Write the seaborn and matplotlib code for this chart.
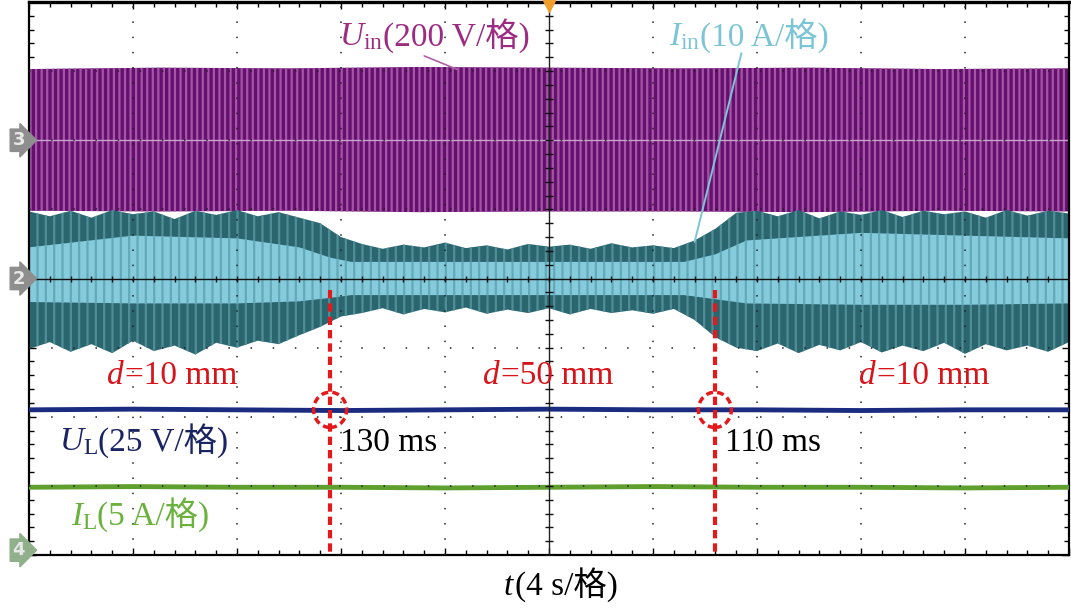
import numpy as np
import pandas as pd
import matplotlib
matplotlib.use("Agg")
import matplotlib.pyplot as plt
import seaborn as sns
from matplotlib.patches import Ellipse
from matplotlib.offsetbox import TextArea, HPacker, AnnotationBbox
import matplotlib.transforms as mtransforms

sns.set_theme(style="white")
FAM = ["Liberation Serif", "Noto Sans CJK SC", "DejaVu Sans"]
plt.rcParams["font.family"] = FAM
plt.rcParams["mathtext.fontset"] = "custom"
plt.rcParams["mathtext.rm"] = "Liberation Serif"
plt.rcParams["mathtext.it"] = "Liberation Serif:italic"
plt.rcParams["hatch.linewidth"] = 1.6

# ---------------- data (time in s, amplitude in divisions) ----------------
t_env = [0.0, 0.8, 1.6, 2.4, 3.2, 4.0, 4.8, 5.6, 6.4, 7.2, 8.0, 8.8, 9.6, 10.4,
         11.2, 12.0,
         12.8, 13.6, 14.4, 15.2, 16.0, 16.8, 17.6, 18.4, 19.2, 20.0, 20.8, 21.6,
         22.4, 23.2, 24.0, 24.8,
         25.6, 26.4, 27.2,
         28.0, 28.8, 29.6, 30.4, 31.2, 32.0, 32.8, 33.6, 34.4, 35.2, 36.0, 36.8,
         37.6, 38.4, 39.2, 40.0]
iin_upper = [0.97, 0.90, 0.98, 0.88, 0.99, 0.93, 0.97, 0.86, 0.98, 0.92, 0.99, 0.90, 0.96, 0.88,
             0.80, 0.60,
             0.50, 0.43, 0.49, 0.45, 0.52, 0.44, 0.48, 0.42, 0.50, 0.46, 0.49, 0.43,
             0.51, 0.45, 0.48, 0.44,
             0.55, 0.72, 0.95,
             0.98, 0.90, 0.99, 0.87, 0.97, 0.92, 0.99, 0.89, 0.98, 0.93, 0.97, 0.88,
             0.99, 0.91, 0.98, 0.94]
iin_lower = [-1.02, -0.92, -1.06, -0.95, -1.08, -0.90, -1.05, -0.97, -1.10, -0.93, -1.00, -0.90, -0.95, -0.82,
             -0.70, -0.55,
             -0.50, -0.43, -0.52, -0.44, -0.49, -0.42, -0.51, -0.45, -0.50, -0.43, -0.52, -0.44,
             -0.50, -0.46, -0.51, -0.44,
             -0.60, -0.85, -1.00,
             -1.05, -0.94, -1.08, -0.96, -1.04, -0.92, -1.07, -0.97, -1.05, -0.93, -1.09, -0.95,
             -1.04, -0.97, -1.06, -0.92]
t_core = [0.0, 4.0, 8.0, 10.4, 11.6, 12.4, 20.0, 25.2, 26.4, 27.6, 32.0, 36.0, 40.0]
core_upper = [0.45, 0.62, 0.58, 0.45, 0.30, 0.24, 0.24, 0.24, 0.35, 0.55, 0.66, 0.62, 0.58]
core_lower = [-0.34, -0.36, -0.36, -0.33, -0.28, -0.24, -0.24, -0.24, -0.30, -0.36, -0.38, -0.38, -0.36]

t_u = [0, 5, 10, 15, 20, 25, 30, 35, 40]
uin_upper = [3.03, 3.05, 3.04, 3.06, 3.05, 3.04, 3.05, 3.03, 3.04]
uin_lower = [0.98, 0.97, 0.98, 0.96, 0.97, 0.97, 0.96, 0.98, 0.97]
uin_ref = 2.0

t_dc = [0, 4, 8, 12, 16, 20, 24, 28, 32, 36, 40]
ul_vals = [-1.90, -1.89, -1.90, -1.91, -1.90, -1.89, -1.90, -1.90, -1.91, -1.90, -1.90]
il_vals = [-3.02, -3.01, -3.02, -3.02, -3.03, -3.02, -3.01, -3.02, -3.02, -3.03, -3.02]

switch_times = [11.58, 26.38]
switch_labels = ["130 ms", "110 ms"]
gap_labels = ["=10 mm", "=50 mm", "=10 mm"]
gap_pos = [5.5, 19.96, 34.4]

# ---------------- figure ----------------
fig = plt.figure(figsize=(10.71, 6.08), dpi=100)
ax = fig.add_axes([29 / 1071, 53 / 608, 1040 / 1071, 553 / 608])
ax.set_xlim(0, 40)
ax.set_ylim(-4, 4)

# Uin (purple, striped like the scope trace)
ax.fill_between(t_u, uin_lower, uin_upper, facecolor="#650f6e", edgecolor="#a455a6",
                hatch="|||", lw=0, zorder=2)
ax.plot([0, 40], [uin_ref, uin_ref], color="#c9a3cc", lw=1.0, zorder=2.1)

# Iin (teal)
ax.fill_between(t_env, iin_lower, iin_upper, facecolor="#2b666f", edgecolor="#4f8e98",
                hatch="||", lw=0, zorder=2)
ax.fill_between(t_core, core_lower, core_upper, facecolor="#86cbdc", edgecolor="#62a9ba",
                hatch="||", lw=0, zorder=2.2)

# DC traces via seaborn
df = pd.DataFrame({"t": t_dc, "UL": ul_vals, "IL": il_vals})
sns.lineplot(data=df, x="t", y="UL", ax=ax, color="#1b2c80", lw=3.5, zorder=3)
sns.lineplot(data=df, x="t", y="IL", ax=ax, color="#5f9f2e", lw=3.5, zorder=3)
ax.set_xlabel("")
ax.set_ylabel("")

# graticule
major_x = np.arange(0, 40.1, 4)
minor_x = np.arange(0, 40.1, 0.8)
major_y = np.arange(-4, 4.1, 1)
minor_y = np.arange(-4, 4.01, 0.2)
for x in major_x[1:-1]:
    if x == 20:
        continue
    ax.axvline(x, color="#222222", lw=1.1, ls=(0, (1, 8.95)), zorder=4)
for y in major_y[1:-1]:
    if y == 0:
        continue
    ax.axhline(y, color="#222222", lw=1.1, ls=(0, (1, 13.5)), zorder=4)
ax.axvline(20, color="#222222", lw=1.0, zorder=4)
ax.axhline(0, color="#111111", lw=1.0, zorder=4)
ax.plot(minor_x, np.zeros_like(minor_x), ls="none", marker="|", ms=5, mew=1.0, color="#111111", zorder=4)
ax.plot(np.full_like(minor_y, 20), minor_y, ls="none", marker="_", ms=6, mew=1.0, color="#111111", zorder=4)

ax.set_xticks(major_x)
ax.set_xticks(minor_x, minor=True)
ax.set_yticks(major_y)
ax.set_yticks(minor_y, minor=True)
ax.tick_params(which="both", direction="in", bottom=True, top=True, left=True, right=True,
               labelbottom=False, labelleft=False, color="black")
ax.tick_params(which="major", length=5, width=1)
ax.tick_params(which="minor", length=3.5, width=1)
for sp in ax.spines.values():
    sp.set_color("black")
    sp.set_linewidth(1.6)
ax.spines["top"].set_linewidth(2.4)

# red switching markers
red = "#e3191c"
for ts in switch_times:
    ax.plot([ts, ts], [-0.17, -4], color=red, lw=3, ls=(0, (2, 1.2)), zorder=6)
    ax.add_patch(Ellipse((ts, ul_vals[0]), 1.27, 0.51, fill=False, ec=red, lw=2.5,
                         ls=(0, (2, 1.2)), zorder=6))
for ts, lab in zip(switch_times, switch_labels):
    ax.text(ts + 0.38, -2.38, lab, fontsize=24, color="black", ha="left", va="center", zorder=7)

# annotation leader lines
ax.plot([15.2, 16.5], [3.22, 3.02], color="#b060a8", lw=1.2, zorder=5)
ax.plot([27.4, 25.6], [3.26, 0.53], color="#7cc5d6", lw=1.4, zorder=5)


def label(parts, xy, color, xycoords="data", fs=24):
    areas = [TextArea(s, textprops=dict(color=color, fontsize=fs, family=FAM)) for s in parts]
    pack = HPacker(children=areas, align="baseline", pad=0, sep=0)
    ab = AnnotationBbox(pack, xy, xycoords=xycoords, frameon=False,
                        box_alignment=(0.5, 0.5), pad=0, annotation_clip=False)
    ab.set_zorder(8)
    ax.add_artist(ab)


label([r"$U_{\mathrm{in}}$", "(200 V/格)"], (15.6, 3.52), "#9c2c82")
label([r"$I_{\mathrm{in}}$", "(10 A/格)"], (27.7, 3.52), "#7cc5d6")
label([r"$U_{\mathrm{L}}$", "(25 V/格)"], (4.4, -2.34), "#1b2462")
label([r"$I_{\mathrm{L}}$", "(5 A/格)"], (4.27, -3.42), "#6bb13d")
for gp, gl in zip(gap_pos, gap_labels):
    label([r"$d$", gl], (gp, -1.40), "#d8141b")
label([r"$t$", "(4 s/格)"], (0.523, 0.038), "black", xycoords="figure fraction")

# channel markers on the left
trans = mtransforms.blended_transform_factory(ax.transAxes, ax.transData)
for ch, yv, fc in [("3", uin_ref, "#8e8e8e"), ("2", 0.0, "#8e8e8e"), ("4", -3.93, "#8fb08a")]:
    ax.text(-0.004, yv, ch, transform=trans, ha="right", va="center", fontsize=13,
            fontweight="bold", color="#e8e8e8", family="DejaVu Sans", clip_on=False,
            bbox=dict(boxstyle="rarrow,pad=0.12", fc=fc, ec=fc), zorder=9)
# trigger marker
ax.plot([20], [3.97], marker="v", ms=11, color="#f0a02a", clip_on=False, zorder=9)

fig.savefig("out.png", dpi=100)
